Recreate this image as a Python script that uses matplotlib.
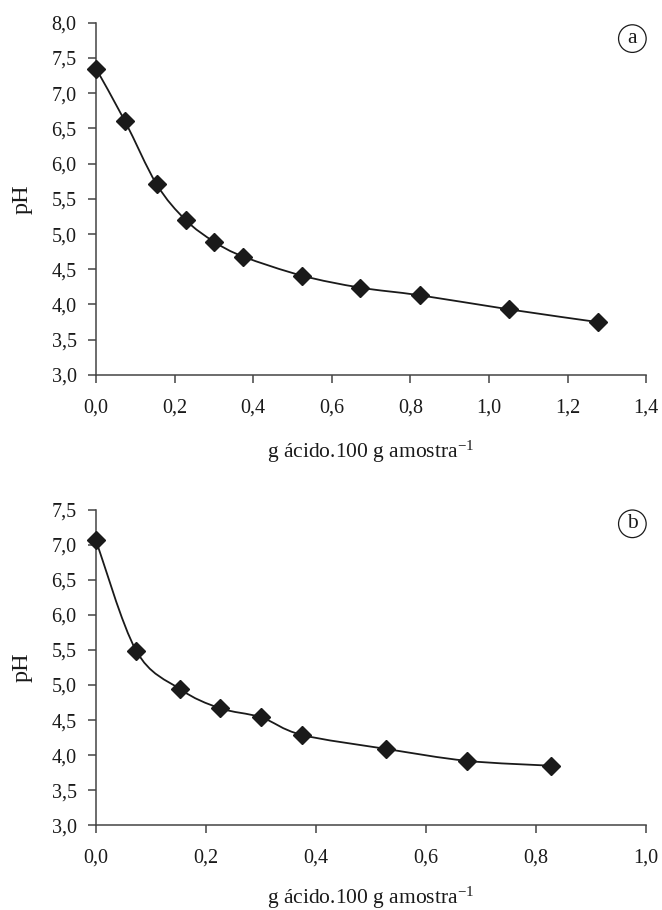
import numpy as np
import matplotlib.pyplot as plt
from matplotlib.path import Path
from matplotlib.patches import PathPatch

plt.rcParams["font.family"] = ["Liberation Serif", "DejaVu Serif"]
plt.rcParams["mathtext.fontset"] = "custom"
plt.rcParams["mathtext.rm"] = "Liberation Serif"
plt.rcParams["mathtext.it"] = "Liberation Serif"

# panel (a)
X_A = [0.0, 0.074, 0.154, 0.228, 0.301, 0.375, 0.524, 0.672, 0.825, 1.052, 1.277]
PH_A = [7.35, 6.60, 5.71, 5.20, 4.89, 4.68, 4.41, 4.24, 4.13, 3.93, 3.75]

# panel (b)
X_B = [0.0, 0.073, 0.153, 0.225, 0.300, 0.374, 0.527, 0.674, 0.827]
PH_B = [7.06, 5.49, 4.94, 4.67, 4.54, 4.29, 4.09, 3.92, 3.85]

XLABEL = r"g ácido.100 g amostra$^{-1}$"
FS = 14.5
INK = "#1a1a1a"
AXC = "#444444"


def smooth_path(x, y, t=1.0 / 6):
    # Excel-like smoothed line: cubic Bezier through the points
    x = np.asarray(x, float)
    y = np.asarray(y, float)
    n = len(x)
    verts = [(x[0], y[0])]
    codes = [Path.MOVETO]
    for i in range(n - 1):
        x0, y0 = (x[i - 1], y[i - 1]) if i > 0 else (x[i], y[i])
        x3, y3 = (x[i + 2], y[i + 2]) if i + 2 < n else (x[i + 1], y[i + 1])
        c1 = (x[i] + (x[i + 1] - x0) * t, y[i] + (y[i + 1] - y0) * t)
        c2 = (x[i + 1] - (x3 - x[i]) * t, y[i + 1] - (y3 - y[i]) * t)
        verts += [c1, c2, (x[i + 1], y[i + 1])]
        codes += [Path.CURVE4] * 3
    return Path(verts, codes)


def comma(v, dec=1):
    return f"{v:.{dec}f}".replace(".", ",")


def draw_panel(ax, x, y, xmax, ymax, letter, xlpad=15):
    ax.add_patch(PathPatch(smooth_path(x, y), fill=False, lw=1.3, color=INK))
    ax.plot(x, y, ls="none", marker="D", ms=9.5, color=INK, zorder=3, clip_on=False)

    ax.set_xlim(0, xmax)
    ax.set_ylim(3.0, ymax)
    xt = np.arange(0, xmax + 1e-9, 0.2)
    yt = np.arange(3.0, ymax + 1e-9, 0.5)
    ax.set_xticks(xt)
    ax.set_xticklabels([comma(v) for v in xt], fontsize=FS, color=INK)
    ax.set_yticks(yt)
    ax.set_yticklabels([comma(v) for v in yt], fontsize=FS, color=INK)

    for s in ["top", "right"]:
        ax.spines[s].set_visible(False)
    for s in ["left", "bottom"]:
        ax.spines[s].set_color(AXC)
        ax.spines[s].set_linewidth(1.1)
    ax.tick_params(axis="x", direction="out", length=6, width=1.1, color=AXC, pad=11)
    ax.tick_params(axis="y", direction="out", length=6, width=1.1, color=AXC, pad=8)

    ax.set_xlabel(XLABEL, fontsize=FS + 1, labelpad=xlpad, color=INK)
    ax.set_ylabel("pH", fontsize=FS + 3, color=INK)
    ax.yaxis.set_label_coords(-0.115, 0.5)

    ax.text(0.975, 0.955, letter, transform=ax.transAxes, ha="center", va="center",
            fontsize=FS + 1, color=INK,
            bbox=dict(boxstyle="circle,pad=0.2", fc="white", ec=INK, lw=0.9))


fig = plt.figure(figsize=(6.62, 9.10), dpi=100)
ax1 = fig.add_axes([0.145, 0.588, 0.831, 0.387])
ax2 = fig.add_axes([0.145, 0.093, 0.831, 0.347])

draw_panel(ax1, X_A, PH_A, 1.4, 8.0, "a")
draw_panel(ax2, X_B, PH_B, 1.0, 7.5, "b", xlpad=12)

fig.savefig("out.png", dpi=100)
